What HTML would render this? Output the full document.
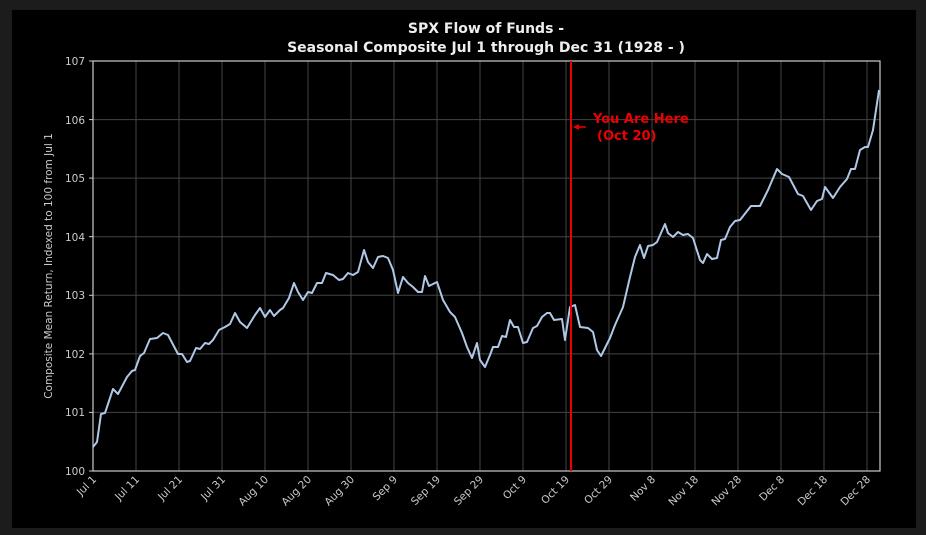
<!DOCTYPE html>
<html><head><meta charset="utf-8"><style>
html,body{margin:0;padding:0;background:#1c1c1c;width:926px;height:535px;overflow:hidden}
svg{display:block}
text{font-family:"DejaVu Sans","Liberation Sans",sans-serif}
</style></head><body>
<svg width="926" height="535" xmlns="http://www.w3.org/2000/svg">
<rect x="0" y="0" width="926" height="535" fill="#1c1c1c"/>
<rect x="12" y="10" width="904" height="518" fill="#000"/>
<g stroke="#444" stroke-width="1">
<line x1="93" y1="412.4" x2="880" y2="412.4"/><line x1="93" y1="353.9" x2="880" y2="353.9"/>
<line x1="93" y1="295.3" x2="880" y2="295.3"/><line x1="93" y1="236.7" x2="880" y2="236.7"/>
<line x1="93" y1="178.1" x2="880" y2="178.1"/><line x1="93" y1="119.6" x2="880" y2="119.6"/>
<line x1="136" y1="61" x2="136" y2="471"/><line x1="179" y1="61" x2="179" y2="471"/>
<line x1="222" y1="61" x2="222" y2="471"/><line x1="265" y1="61" x2="265" y2="471"/>
<line x1="308" y1="61" x2="308" y2="471"/><line x1="351" y1="61" x2="351" y2="471"/>
<line x1="394" y1="61" x2="394" y2="471"/><line x1="437" y1="61" x2="437" y2="471"/>
<line x1="480" y1="61" x2="480" y2="471"/><line x1="523" y1="61" x2="523" y2="471"/>
<line x1="566" y1="61" x2="566" y2="471"/><line x1="609" y1="61" x2="609" y2="471"/>
<line x1="652" y1="61" x2="652" y2="471"/><line x1="695" y1="61" x2="695" y2="471"/>
<line x1="738" y1="61" x2="738" y2="471"/><line x1="781" y1="61" x2="781" y2="471"/>
<line x1="824" y1="61" x2="824" y2="471"/><line x1="867" y1="61" x2="867" y2="471"/>
</g>
<rect x="93" y="61" width="787" height="410" fill="none" stroke="#ccc" stroke-width="1.2"/>
<g stroke="#ccc" stroke-width="1">
<line x1="89" y1="471" x2="93" y2="471"/><line x1="89" y1="412.4" x2="93" y2="412.4"/><line x1="89" y1="353.9" x2="93" y2="353.9"/><line x1="89" y1="295.3" x2="93" y2="295.3"/><line x1="89" y1="236.7" x2="93" y2="236.7"/><line x1="89" y1="178.1" x2="93" y2="178.1"/><line x1="89" y1="119.6" x2="93" y2="119.6"/><line x1="89" y1="61" x2="93" y2="61"/>
</g>
<g fill="#ccc" font-size="10.5" text-anchor="end">
<text x="85" y="475">100</text><text x="85" y="416">101</text><text x="85" y="358">102</text><text x="85" y="299">103</text><text x="85" y="241">104</text><text x="85" y="182">105</text><text x="85" y="124">106</text><text x="85" y="65">107</text>
</g>
<g fill="#ccc" font-size="10.5" text-anchor="end">
<text transform="translate(97,480) rotate(-45)">Jul 1</text>
<text transform="translate(140,480) rotate(-45)">Jul 11</text>
<text transform="translate(183,480) rotate(-45)">Jul 21</text>
<text transform="translate(226,480) rotate(-45)">Jul 31</text>
<text transform="translate(269,480) rotate(-45)">Aug 10</text>
<text transform="translate(312,480) rotate(-45)">Aug 20</text>
<text transform="translate(355,480) rotate(-45)">Aug 30</text>
<text transform="translate(398,480) rotate(-45)">Sep 9</text>
<text transform="translate(441,480) rotate(-45)">Sep 19</text>
<text transform="translate(484,480) rotate(-45)">Sep 29</text>
<text transform="translate(527,480) rotate(-45)">Oct 9</text>
<text transform="translate(570,480) rotate(-45)">Oct 19</text>
<text transform="translate(613,480) rotate(-45)">Oct 29</text>
<text transform="translate(656,480) rotate(-45)">Nov 8</text>
<text transform="translate(699,480) rotate(-45)">Nov 18</text>
<text transform="translate(742,480) rotate(-45)">Nov 28</text>
<text transform="translate(785,480) rotate(-45)">Dec 8</text>
<text transform="translate(828,480) rotate(-45)">Dec 18</text>
<text transform="translate(871,480) rotate(-45)">Dec 28</text>
</g>
<text transform="translate(52,266) rotate(-90)" fill="#ccc" font-size="10.5" text-anchor="middle">Composite Mean Return, Indexed to 100 from Jul 1</text>
<text x="486" y="33" fill="#eee" font-size="14" font-weight="bold" text-anchor="middle">SPX Flow of Funds -</text>
<text x="486" y="52" fill="#eee" font-size="14" font-weight="bold" text-anchor="middle">Seasonal Composite Jul 1 through Dec 31 (1928 - )</text>
<polyline fill="none" stroke="#b0c8e8" stroke-width="2" stroke-linejoin="round" points="93,447 97,442 101,414 105,413 113,389 118,394 127,377 132,371 135,370 140,356 144,353 150,339 157,338 163,333 168,335 178,354 182,354 187,362 190,361 196,348 200,349 205,343 209,344 213,340 219,330 225,327 230,324 235,313 240,322 247,328 255,315 260,308 265,317 270,310 274,316 280,310 283,308 289,298 294,283 298,292 303,300 308,292 312,293 317,283 322,283 326,273 333,275 339,280 343,279 348,273 353,275 358,272 364,250 368,262 373,268 378,257 383,256 388,258 393,270 398,293 403,277 408,283 413,287 418,292 422,292 425,276 429,286 437,282 443,300 450,312 455,317 462,333 467,347 472,358 477,343 480,360 485,367 490,355 493,347 498,347 502,336 506,337 510,320 514,327 518,327 523,343 527,342 533,328 537,326 542,317 547,313 550,313 554,320 562,319 565,340 570,307 575,305 580,327 588,328 593,332 597,350 601,356 610,338 615,325 623,307 630,277 635,257 640,245 644,258 648,246 653,245 657,242 665,224 668,233 673,237 678,232 683,235 688,234 693,238 700,260 703,263 707,254 712,259 717,258 721,240 725,239 730,227 735,221 740,220 751,206 760,206 768,190 777,169 782,174 789,177 798,194 803,196 811,210 817,201 822,199 825,187 833,198 840,187 847,179 851,169 855,169 860,150 865,147 868,147 873,130 879,90"/>
<line x1="571" y1="61" x2="571" y2="471" stroke="#e00" stroke-width="2"/>
<line x1="586" y1="127" x2="575" y2="127" stroke="#e00" stroke-width="1.5"/>
<polygon points="573,127 579,124 579,130" fill="#e00"/>
<text x="593" y="123" fill="#e00" font-size="13" font-weight="bold">You Are Here</text>
<text x="597" y="140" fill="#e00" font-size="13" font-weight="bold">(Oct 20)</text>
</svg>
</body></html>
